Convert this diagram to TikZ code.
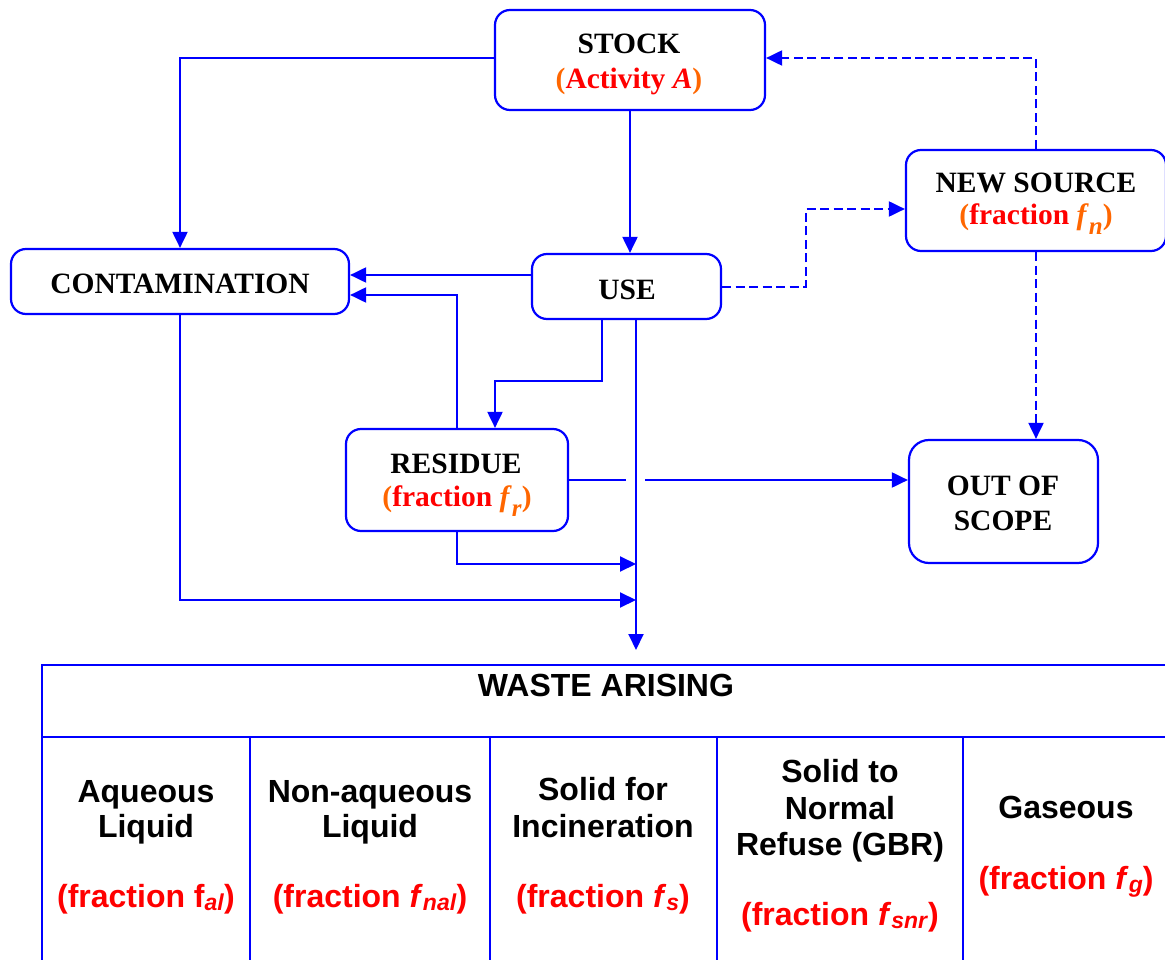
\documentclass[tikz,border=0pt]{standalone}
\usepackage{fontspec}
\setmainfont{Liberation Serif}
\newfontfamily\arialf{Liberation Sans}
\usetikzlibrary{arrows.meta}
\definecolor{lblue}{RGB}{0,0,255}
\definecolor{lred}{RGB}{255,0,0}
\definecolor{lorange}{RGB}{255,102,0}
\newcommand{\tsub}[1]{\raisebox{-10pt}{\fontsize{25}{25}\selectfont\textit{#1}}}
\newcommand{\ssub}[1]{\raisebox{-3pt}{\fontsize{23}{23}\selectfont\textit{#1}}}
\begin{document}
\begin{tikzpicture}[x=1pt,y=-1pt,
  box/.style={draw=lblue, line width=2.2pt, rounded corners=15pt, inner sep=0pt},
  conn/.style={draw=lblue, line width=2pt, -{Triangle[length=16pt,width=15pt]}},
  dconn/.style={conn, dash pattern=on 9pt off 4.5pt},
  tt/.style={font=\fontsize{29.5}{34}\selectfont\bfseries, anchor=base, inner sep=0pt},
  ts/.style={font=\fontsize{32}{36}\selectfont\arialf\bfseries, anchor=base, inner sep=0pt},
  gridl/.style={draw=lblue, line width=2.5pt}]
\useasboundingbox (0,0) rectangle (1165,960);

% boxes
\node[box, minimum width=270pt, minimum height=100pt] (stock) at (630,60) {};
\node[box, minimum width=260pt, minimum height=101pt] (newsrc) at (1036,200.5) {};
\node[box, minimum width=338pt, minimum height=65pt] (contam) at (180,281.5) {};
\node[box, minimum width=189pt, minimum height=65pt] (use) at (626.5,286.5) {};
\node[box, minimum width=222pt, minimum height=102pt] (residue) at (457,480) {};
\node[box, rounded corners=20pt, minimum width=189pt, minimum height=123pt] (outscope) at (1003.5,501.5) {};

% box texts
\node[tt] (stockA) at (629,54) {STOCK};
\node[tt] (stockB) at (629,89) {\textcolor{lorange}{(}\textcolor{lred}{Activity \textit{A}}\textcolor{lorange}{)}};
\node[tt] (newA) at (1036,193) {NEW SOURCE};
\node[tt] (newB) at (1036,225) {\textcolor{lorange}{(}\textcolor{lred}{fraction }\textcolor{lorange}{\textit{f}\tsub{n})}};
\node[tt] (contamA) at (180,293) {CONTAMINATION};
\node[tt] (useA) at (627,299) {USE};
\node[tt] (resA) at (456,473) {RESIDUE};
\node[tt] (resB) at (457,506) {\textcolor{lorange}{(}\textcolor{lred}{fraction }\textcolor{lorange}{\textit{f}\tsub{r})}};
\node[tt] (outA) at (1003,495) {OUT OF};
\node[tt] (outB) at (1003,530) {SCOPE};

% junction coordinates
\coordinate (j1) at (636,564);
\coordinate (j2) at (636,600);
\coordinate (wtop) at (636,650);

% connectors
\draw[conn] (stock.west |- 0,58) -| (contam.north);
\draw[conn] (stock.south) -- (stock.south |- use.north);
\draw[dconn] (newsrc.north) |- (stock.east |- 0,58);
\draw[dconn] (use.east) -| (806,209) -- (newsrc.west |- 0,209);
\draw[dconn] (newsrc.south) -- (newsrc.south |- outscope.north);
\draw[conn] (use.west |- 0,275) -- (contam.east |- 0,275);
\draw[conn] (residue.north) |- (contam.east |- 0,295);
\draw[conn] (use.south -| 602,0) |- (495,381) -- (residue.north -| 495,0);
\draw[conn] (residue.east) -- (residue.east -| outscope.west);
\draw[white, line width=5pt] (626,480) -- (645,480);
\draw[conn] (use.south -| 636,0) -- (wtop);
\draw[conn] (residue.south) |- (j1);
\draw[conn] (contam.south) |- (j2);

% waste table
\draw[gridl] (42,965) -- (42,665) -- (1170,665);
\draw[gridl] (42,737) -- (1170,737);
\foreach \xx in {250,490,717,963} \draw[gridl] (\xx,737) -- (\xx,965);

\node[ts] (waste) at (606,696) {WASTE ARISING};
\node[ts] (c1a) at (146,802) {Aqueous};
\node[ts] (c1b) at (146,837) {Liquid};
\node[ts, text=lred] (c1c) at (146,907) {(fraction f\ssub{al})};
\node[ts] (c2a) at (370,802) {Non-aqueous};
\node[ts] (c2b) at (370,837) {Liquid};
\node[ts, text=lred] (c2c) at (370,907) {(fraction \textit{f}\ssub{nal})};
\node[ts] (c3a) at (603,800) {Solid for};
\node[ts] (c3b) at (603,837) {Incineration};
\node[ts, text=lred] (c3c) at (603,907) {(fraction \textit{f}\ssub{s})};
\node[ts] (c4a) at (840,782) {Solid to};
\node[ts] (c4b) at (840,819) {Normal};
\node[ts] (c4c) at (840,855) {Refuse (GBR)};
\node[ts, text=lred] (c4d) at (840,925) {(fraction \textit{f}\ssub{snr})};
\node[ts] (c5a) at (1066,818) {Gaseous};
\node[ts, text=lred] (c5b) at (1066,889) {(fraction \textit{f}\ssub{g})};
\end{tikzpicture}
\end{document}
